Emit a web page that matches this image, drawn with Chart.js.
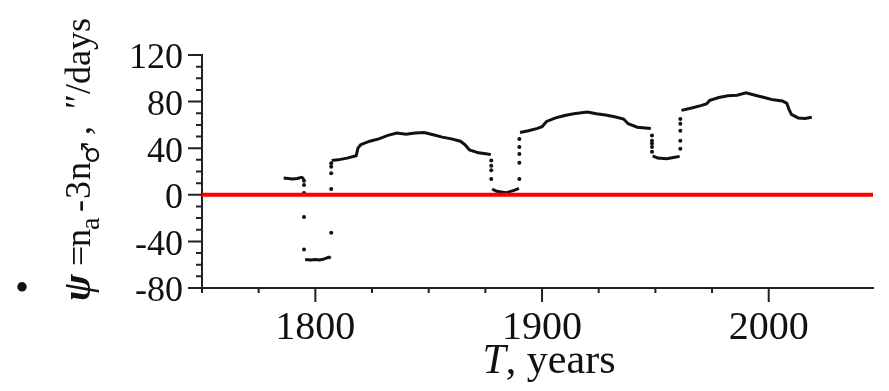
<!DOCTYPE html>
<html>
<head>
<meta charset="utf-8">
<script src="https://cdn.jsdelivr.net/npm/chart.js@4/dist/chart.umd.min.js"></script>
<style>
  html, body { margin: 0; padding: 0; background: #fff; }
  #wrap { width: 889px; height: 391px; }
</style>
</head>
<body>
<div id="wrap"><canvas id="grafico" width="889" height="391"></canvas></div>
<script>
// curva principal (años / valores), null = corte entre tramos
var anosCurva = [1786, 1788, 1790, 1792, 1794, 1795, 1795.2,
    1795.5, 1798, 1800, 1802, 1804, 1806, 1806.8, 1807,
    1807.2, 1810, 1814, 1818, 1818.8, 1820, 1824, 1828, 1832, 1836, 1840, 1844, 1848, 1852, 1856, 1860, 1864, 1866, 1868, 1872, 1876, 1877.4, 1877.7,
    1878, 1880, 1884, 1888, 1889.8, 1890,
    1890.3, 1894, 1898, 1900, 1902, 1906, 1910, 1914, 1920, 1924, 1928, 1932, 1936, 1938, 1942, 1948, 1948.4,
    1948.8, 1951, 1955, 1958, 1960.7, 1961,
    1961.5, 1966, 1970, 1972.5, 1974, 1978, 1982, 1986, 1990, 1994, 1998, 2002, 2006, 2008, 2009, 2010, 2013, 2016, 2019];
var valoresCurva = [14.5, 14, 13.5, 14, 15, 13.5, null,
    -55.5, -56, -55.5, -56, -55, -53.5, -54.5, null,
    29.5, 30, 31.5, 33.5, 40, 43, 46, 48, 51, 53, 52, 53, 53.5, 51.5, 49.5, 48, 46, 43, 38.5, 36, 35, 34.5, null,
    5, 3, 1.7, 4, 5.5, null,
    53.5, 55, 57, 58.5, 63, 66, 68, 69.5, 71, 69.5, 68.5, 67, 65, 61, 58, 57, null,
    33.5, 31.5, 31, 32, 33, null,
    72.5, 74.5, 76.5, 78, 81, 83.5, 85, 85.5, 87.5, 85.5, 83.5, 81.5, 80.5, 78.5, 73, 69, 66, 65.5, 66.5];

// puntos sueltos en los saltos
var anosSaltos = [1795, 1795, 1795, 1795, 1795,
    1807, 1807, 1807, 1807, 1807,
    1877.6, 1877.6, 1877.6, 1877.6,
    1890, 1890, 1890, 1890, 1890,
    1948.5, 1948.5, 1948.5, 1948.5, 1948.5,
    1961, 1961, 1961, 1961, 1961];
var valoresSaltos = [12, 8.5, 1.5, -19, -47,
    -32.5, 5, 18.5, 24, 27,
    29.5, 25, 21, 13.5,
    13.5, 27.5, 35, 41, 48,
    51, 46.5, 44, 41, 37,
    39.5, 46.5, 55, 61, 65];

var etiquetasX = [1800, 1900, 2000];
var etiquetasY = [-80, -40, 0, 40, 80, 120];
var xMin = 1750, xMax = 2046;
var yMin = -80, yMax = 120;

var serif = '"Liberation Serif", "Times New Roman", serif';

var puntosCurva = anosCurva.map(function (a, i) { return { x: a, y: valoresCurva[i] }; });
var puntosSaltos = anosSaltos.map(function (a, i) { return { x: a, y: valoresSaltos[i] }; });
var lineaCero = [{ x: xMin, y: 0 }, { x: xMax, y: 0 }];

// marcas de los ejes y textos de los titulos
var marcasYTitulos = {
    id: 'marcasYTitulos',
    afterDraw: function (chart) {
        var ctx = chart.ctx;
        var ex = chart.scales.x, ey = chart.scales.y;
        ctx.save();
        ctx.strokeStyle = '#222';
        ctx.lineWidth = 2;
        ctx.beginPath();
        ex.ticks.forEach(function (t) {
            if (t.value % 25 !== 0) return;
            var px = ex.getPixelForValue(t.value);
            var largo = t.value % 100 === 0 ? 14 : 5;
            ctx.moveTo(px, ex.top);
            ctx.lineTo(px, ex.top + largo);
        });
        ey.ticks.forEach(function (t) {
            var py = ey.getPixelForValue(t.value);
            var largo = t.value % 40 === 0 ? 14 : 6;
            ctx.moveTo(ey.right, py);
            ctx.lineTo(ey.right - largo, py);
        });
        ctx.stroke();

        // titulo eje x
        ctx.fillStyle = '#111';
        ctx.textBaseline = 'alphabetic';
        ctx.font = 'italic 42px ' + serif;
        var wT = ctx.measureText('T').width;
        ctx.font = '42px ' + serif;
        var wResto = ctx.measureText(', years').width;
        var inicio = 549 - (wT + wResto) / 2;
        ctx.font = 'italic 42px ' + serif;
        ctx.fillText('T', inicio, 373);
        ctx.font = '42px ' + serif;
        ctx.fillText(', years', inicio + wT, 373);

        // vineta
        ctx.font = '40px ' + serif;
        ctx.textAlign = 'center';
        ctx.textBaseline = 'middle';
        ctx.fillText('•', 22, 290);

        // titulo eje y (rotado): [texto, fuente, desplazamiento a lo largo, subindice]
        ctx.textAlign = 'left';
        ctx.textBaseline = 'alphabetic';
        ctx.translate(90, 301);
        ctx.rotate(-Math.PI / 2);
        var trozos = [
            ['ψ', 'bold italic 40px ' + serif, 0, 0],
            ['=', '36px ' + serif, 35, 0],
            ['n', '36px ' + serif, 54, 0],
            ['a', '28px ' + serif, 71, 9],
            ['-', '36px ' + serif, 89, 0],
            ['3', '36px ' + serif, 102, 0],
            ['n', '36px ' + serif, 121, 0],
            ['♂', '25px "DejaVu Sans", sans-serif', 137, 9],
            [',', '36px ' + serif, 166, 0],
            ['″/days', '36px ' + serif, 192, 0]
        ];
        trozos.forEach(function (p) {
            ctx.font = p[1];
            ctx.fillText(p[0], p[2], p[3]);
        });
        ctx.restore();
    }
};

var ctx = document.getElementById('grafico').getContext('2d');
var grafico = new Chart(ctx, {
    type: 'scatter',
    data: {
        datasets: [
            {
                type: 'line',
                data: puntosCurva,
                borderColor: '#111',
                borderWidth: 3,
                pointRadius: 0,
                spanGaps: false,
                tension: 0,
                order: 2
            },
            {
                type: 'scatter',
                data: puntosSaltos,
                backgroundColor: '#111',
                borderWidth: 0,
                pointRadius: 2,
                order: 3
            },
            {
                type: 'line',
                data: lineaCero,
                borderColor: '#ff0000',
                borderWidth: 4,
                pointRadius: 0,
                order: 1
            }
        ]
    },
    options: {
        responsive: false,
        animation: false,
        devicePixelRatio: 1,
        layout: { padding: { top: 55, right: 0, bottom: 0, left: 0 } },
        plugins: { legend: { display: false }, tooltip: { enabled: false } },
        scales: {
            x: {
                type: 'linear',
                min: xMin,
                max: xMax,
                grid: { display: false, drawTicks: false },
                border: { display: true, color: '#222', width: 2 },
                ticks: {
                    stepSize: 25,
                    autoSkip: false,
                    maxRotation: 0,
                    padding: 16,
                    color: '#111',
                    font: { family: serif, size: 40 },
                    callback: function (v) { return etiquetasX.indexOf(v) >= 0 ? String(v) : ''; }
                },
                afterFit: function (s) { s.height = 103; }
            },
            y: {
                min: yMin,
                max: yMax,
                grid: { display: false, drawTicks: false },
                border: { display: true, color: '#222', width: 2 },
                ticks: {
                    stepSize: 10,
                    autoSkip: false,
                    padding: 19,
                    labelOffset: 4,
                    color: '#111',
                    font: { family: serif, size: 36 },
                    callback: function (v) { return etiquetasY.indexOf(v) >= 0 ? String(v) : ''; }
                },
                afterFit: function (s) { s.width = 202; }
            }
        }
    },
    plugins: [marcasYTitulos]
});
</script>
</body>
</html>
